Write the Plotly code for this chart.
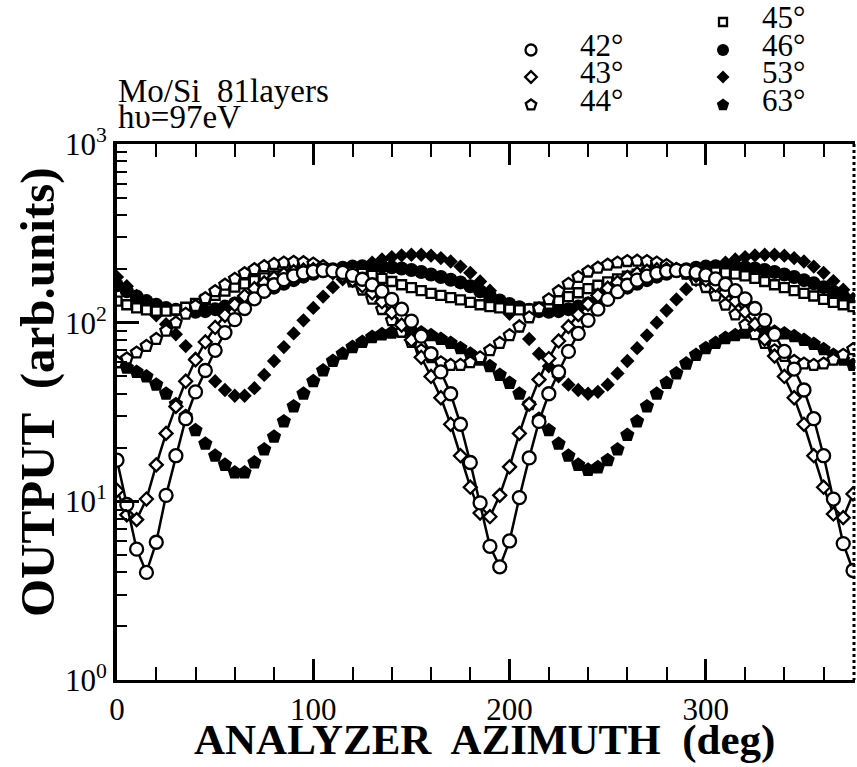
import plotly.graph_objects as go

# ---------------------------------------------------------------- data
azimuth = [0, 5, 10, 15, 20, 25, 30, 35, 40, 45,
           50, 55, 60, 65, 70, 75, 80, 85, 90, 95,
           100, 105, 110, 115, 120, 125, 130, 135, 140, 145,
           150, 155, 160, 165, 170, 175, 180, 185, 190, 195,
           200, 205, 210, 215, 220, 225, 230, 235, 240, 245,
           250, 255, 260, 265, 270, 275, 280, 285, 290, 295,
           300, 305, 310, 315, 320, 325, 330, 335, 340, 345,
           350, 355, 360, 365, 370, 375]

out_42 = [17, 9.6, 5.4, 4.0, 5.9, 10.8, 18, 29, 41, 54,
          70, 88, 104, 120, 136, 150, 163, 174, 183, 190,
          194, 196, 195, 191, 184, 175, 163, 150, 135, 119,
          102, 84, 67, 53, 40, 27, 16.5, 9.8, 5.6, 4.3,
          6.0, 10.5, 17.5, 28, 40, 53, 69, 87, 103, 119,
          135, 149, 162, 173, 182, 189, 194, 196, 195, 191,
          185, 176, 164, 151, 136, 120, 103, 86, 69, 55,
          42, 29, 18, 10.3, 5.8, 4.1]

out_43 = [11.5, 8.4, 7.9, 10.3, 16, 24, 34, 47, 62, 78,
          94, 110, 126, 141, 155, 167, 178, 187, 193, 197,
          198, 196, 191, 183, 173, 161, 147, 131, 114, 97,
          80, 64, 50, 38, 27, 18, 12, 8.6, 8.2, 10.8,
          15.6, 24, 35, 48, 63, 79, 95, 111, 127, 142,
          156, 168, 179, 188, 194, 198, 199, 197, 192, 184,
          174, 162, 148, 132, 115, 98, 81, 65, 50, 38,
          27, 18, 12, 8.5, 8.1, 11]

out_44 = [60, 63, 68, 74, 81, 90, 100, 112, 124, 137,
          150, 163, 176, 189, 199, 207, 213, 217, 219, 218,
          214, 207, 197, 185, 170, 153, 136, 119, 103, 89,
          78, 70, 64, 60, 58, 58, 60, 64, 70, 77,
          85, 95, 107, 120, 135, 150, 165, 180, 193, 203,
          211, 217, 221, 222, 221, 217, 210, 200, 188, 174,
          158, 142, 126, 111, 97, 86, 77, 70, 65, 61,
          59, 58, 59, 62, 66, 71]

out_45 = [132, 126, 121, 118, 116, 116, 118, 122, 128, 135,
          142, 150, 158, 165, 172, 178, 183, 187, 190, 193,
          195, 196, 196, 195, 193, 189, 184, 177, 170, 163,
          157, 151, 146, 142, 138, 134, 130, 126, 123, 121,
          119, 118, 119, 122, 127, 133, 140, 147, 155, 162,
          169, 176, 182, 187, 191, 194, 196, 197, 197, 196,
          194, 192, 190, 187, 183, 177, 170, 163, 157, 151,
          146, 141, 135, 130, 126, 123]

out_46 = [162, 150, 140, 132, 126, 121, 118, 116, 115, 116,
          119, 123, 128, 134, 141, 149, 157, 165, 173, 181,
          188, 194, 199, 203, 206, 207, 207, 206, 204, 201,
          197, 192, 186, 180, 174, 168, 160, 150, 141, 133,
          127, 122, 118, 116, 115, 116, 119, 123, 128, 134,
          141, 149, 157, 165, 173, 181, 188, 194, 199, 203,
          206, 207, 207, 206, 204, 201, 197, 192, 186, 180,
          173, 166, 158, 149, 140, 132]

out_53 = [180, 160, 141, 124, 110, 98, 86, 74, 63, 54,
          47, 42, 39, 39, 43, 51, 61, 73, 87, 103,
          121, 140, 158, 175, 191, 205, 217, 226, 233, 238,
          240, 240, 237, 230, 220, 206, 190, 170, 151, 131,
          112, 96, 81, 67, 57, 50, 45, 42, 40, 41,
          45, 52, 61, 72, 85, 100, 117, 135, 154, 173,
          190, 205, 217, 226, 233, 238, 240, 240, 237, 230,
          220, 206, 190, 171, 153, 136]

out_63 = [60, 56, 53, 50, 45, 40, 35, 30, 25, 21,
          18, 16, 14.5, 14.5, 16.5, 19.5, 23, 28, 34, 40,
          47, 54, 61, 67, 73, 78, 83, 86, 88, 89,
          89, 88, 85, 81, 77, 72, 67, 62, 57, 51,
          46, 40, 35, 29, 25, 21, 18, 16, 15, 15.5,
          17, 19.5, 23.5, 28, 34, 40, 46, 52, 59, 66,
          72, 77, 82, 85, 88, 89, 89, 89, 87, 84,
          80, 76, 71, 66, 62, 58]

x_ticks = [0, 100, 200, 300]
x_minor = [20, 40, 60, 80, 120, 140, 160, 180, 220, 240, 260, 280, 320, 340, 360]
y_ticks = [1, 10, 100, 1000]
y_tick_text = ["10<sup>0</sup>", "10<sup>1</sup>", "10<sup>2</sup>", "10<sup>3</sup>"]
y_minor = [2, 3, 4, 5, 6, 7, 8, 9, 20, 30, 40, 50, 60, 70, 80, 90,
           200, 300, 400, 500, 600, 700, 800, 900]

for s in (out_42, out_43, out_44, out_45, out_46, out_53, out_63):
    assert len(s) == len(azimuth)

# ---------------------------------------------------------------- styling
W, H = 857, 767
BOX_L, BOX_R, BOX_T, BOX_B = 117, 855, 144, 680   # plot box, pixels
SERIF = "Liberation Serif"
INK = "black"

open_line = dict(color=INK, width=2.3)
styles = {
    "46": dict(symbol="circle", size=14, color=INK, line=dict(width=0)),
    "53": dict(symbol="diamond", size=11, color=INK, line=dict(width=0)),
    "63": dict(symbol="pentagon", size=15, color=INK, line=dict(width=0)),
    "45": dict(symbol="square", size=9, color="white", line=open_line),
    "44": dict(symbol="pentagon", size=12, color="white", line=open_line),
    "43": dict(symbol="diamond", size=10, color="white", line=open_line),
    "42": dict(symbol="circle", size=13, color="white", line=open_line),
}
series = [("46", out_46, False), ("53", out_53, False), ("63", out_63, False),
          ("45", out_45, False), ("44", out_44, False),
          ("43", out_43, True), ("42", out_42, True)]

fig = go.Figure()
for name, values, joined in series:
    fig.add_trace(go.Scatter(
        x=azimuth, y=values, name=name + "°",
        mode="lines+markers" if joined else "markers",
        line=dict(color=INK, width=2.5),
        marker=styles[name], showlegend=False, cliponaxis=True,
    ))

# key: column x (marker, text) and row y, in page pixels
key_cols = {"a": (531, 578), "b": (723, 760)}
key_rows = [17, 45, 72, 100]
key = [("42", "a", 1), ("43", "a", 2), ("44", "a", 3),
       ("45", "b", 0), ("46", "b", 1), ("53", "b", 2), ("63", "b", 3)]
key_marker_size = {"42": 11, "43": 9, "44": 11, "45": 8,
                   "46": 12, "53": 10, "63": 13}

annotations = []
for name, col, row in key:
    mx, tx = key_cols[col]
    mk = dict(styles[name], size=key_marker_size[name])
    fig.add_trace(go.Scatter(
        x=[mx], y=[key_rows[row] + 5], xaxis="x2", yaxis="y2",
        mode="markers", marker=mk, showlegend=False, hoverinfo="skip"))
    annotations.append(dict(
        x=tx, y=key_rows[row], xref="x2", yref="y2", text=name + "°",
        showarrow=False, xanchor="left", yanchor="middle",
        font=dict(family=SERIF, size=31, color=INK)))

annotations += [
    dict(x=BOX_L - 1, y=91, xref="x2", yref="y2",
         text="Mo/Si\u00a0 81layers", showarrow=False,
         xanchor="left", yanchor="middle",
         font=dict(family=SERIF, size=33, color=INK)),
    dict(x=BOX_L - 1, y=117, xref="x2", yref="y2",
         text="h\u03c5=97eV", showarrow=False,
         xanchor="left", yanchor="middle",
         font=dict(family=SERIF, size=33, color=INK)),
    dict(x=(BOX_L + BOX_R) / 2 - 2, y=740, xref="x2", yref="y2",
         text="<b>ANALYZER  AZIMUTH  (deg)</b>", showarrow=False,
         xanchor="center", yanchor="middle",
         font=dict(family=SERIF, size=43, color=INK)),
    dict(x=37, y=392, xref="x2", yref="y2",
         text="<b>OUTPUT  (arb.units)</b>", showarrow=False, textangle=-90,
         xanchor="center", yanchor="middle",
         font=dict(family=SERIF, size=49, color=INK)),
]

fig.update_layout(
    template="none",
    width=W, height=H, autosize=False,
    margin=dict(l=0, r=0, t=0, b=0, pad=0, autoexpand=False),
    paper_bgcolor="white", plot_bgcolor="rgba(0,0,0,0)",
    showlegend=False,
    font=dict(family=SERIF, color=INK),
    xaxis=dict(
        domain=[BOX_L / W, BOX_R / W], range=[0, 376], automargin=False,
        tickmode="array", tickvals=x_ticks, ticktext=[str(v) for v in x_ticks],
        ticks="inside", ticklen=21, tickwidth=2.5, tickcolor=INK,
        showline=True, linewidth=3, linecolor=INK, mirror="ticks",
        showgrid=False, zeroline=False,
        tickfont=dict(family=SERIF, size=31, color=INK),
        minor=dict(tickmode="array", tickvals=x_minor, ticks="inside",
                   ticklen=13, tickwidth=2.2, tickcolor=INK, showgrid=False),
    ),
    yaxis=dict(
        type="log", domain=[1 - BOX_B / H, 1 - BOX_T / H], range=[0, 3],
        automargin=False,
        tickmode="array", tickvals=y_ticks, ticktext=y_tick_text,
        ticks="inside", ticklen=22, tickwidth=2.5, tickcolor=INK,
        showline=True, linewidth=4, linecolor=INK, mirror=False,
        showgrid=False, zeroline=False,
        tickfont=dict(family=SERIF, size=31, color=INK),
        minor=dict(tickmode="array", tickvals=y_minor, ticks="inside",
                   ticklen=10, tickwidth=2.2, tickcolor=INK, showgrid=False),
    ),
    xaxis2=dict(domain=[0, 1], range=[0, W], visible=False, anchor="y2",
                fixedrange=True, automargin=False),
    yaxis2=dict(domain=[0, 1], range=[H, 0], visible=False, anchor="x2",
                fixedrange=True, automargin=False),
    annotations=annotations,
    shapes=[dict(type="line", xref="x2", yref="y2",
                 x0=BOX_R - 1, x1=BOX_R - 1, y0=BOX_T, y1=BOX_B,
                 line=dict(color=INK, width=3, dash="dot"))],
)

fig.write_html("out.html")
